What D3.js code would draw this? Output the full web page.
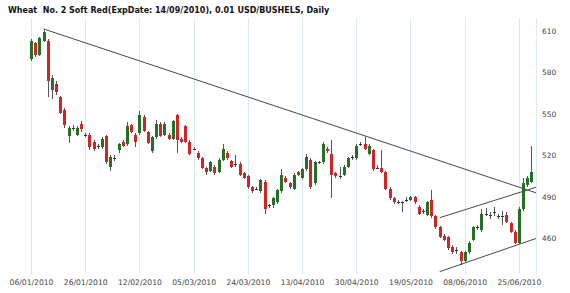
<!DOCTYPE html>
<html>
<head>
<meta charset="utf-8">
<script src="https://cdn.jsdelivr.net/npm/d3@7"></script>
<style>
body { margin: 0; background: #fff; }
svg { display: block; }
text { font-family: "DejaVu Sans", Verdana, sans-serif; white-space: pre; }
</style>
</head>
<body>
<svg id="chart" width="570" height="293"></svg>
<script>
const title = "Wheat  No. 2 Soft Red(ExpDate: 14/09/2010), 0.01 USD/BUSHELS, Daily"

// trading days, one candle each
const dates = [
    "06/01/2010", "07/01/2010", "08/01/2010", "11/01/2010", "12/01/2010", "13/01/2010", "14/01/2010", "15/01/2010",
    "19/01/2010", "20/01/2010", "21/01/2010", "22/01/2010", "25/01/2010", "26/01/2010", "27/01/2010", "28/01/2010",
    "29/01/2010", "01/02/2010", "02/02/2010", "03/02/2010", "04/02/2010", "05/02/2010", "08/02/2010", "09/02/2010",
    "10/02/2010", "11/02/2010", "12/02/2010", "17/02/2010", "18/02/2010", "19/02/2010", "22/02/2010", "23/02/2010",
    "24/02/2010", "25/02/2010", "26/02/2010", "01/03/2010", "02/03/2010", "03/03/2010", "04/03/2010", "05/03/2010",
    "08/03/2010", "09/03/2010", "10/03/2010", "11/03/2010", "12/03/2010", "15/03/2010", "16/03/2010", "17/03/2010",
    "18/03/2010", "19/03/2010", "22/03/2010", "23/03/2010", "24/03/2010", "25/03/2010", "26/03/2010", "29/03/2010",
    "30/03/2010", "31/03/2010", "01/04/2010", "05/04/2010", "06/04/2010", "07/04/2010", "08/04/2010", "09/04/2010",
    "12/04/2010", "13/04/2010", "14/04/2010", "15/04/2010", "16/04/2010", "19/04/2010", "20/04/2010", "21/04/2010",
    "22/04/2010", "23/04/2010", "26/04/2010", "27/04/2010", "28/04/2010", "29/04/2010", "30/04/2010", "03/05/2010",
    "04/05/2010", "05/05/2010", "06/05/2010", "07/05/2010", "10/05/2010", "11/05/2010", "12/05/2010", "13/05/2010",
    "14/05/2010", "17/05/2010", "18/05/2010", "19/05/2010", "20/05/2010", "21/05/2010", "24/05/2010", "25/05/2010",
    "26/05/2010", "27/05/2010", "28/05/2010", "01/06/2010", "02/06/2010", "03/06/2010", "04/06/2010", "07/06/2010",
    "08/06/2010", "09/06/2010", "10/06/2010", "11/06/2010", "14/06/2010", "15/06/2010", "16/06/2010", "17/06/2010",
    "18/06/2010", "21/06/2010", "22/06/2010", "23/06/2010", "24/06/2010", "25/06/2010", "28/06/2010", "29/06/2010",
    "30/06/2010",
]

const open = [
    590, 601, 593, 603, 603, 567, 572, 562, 553, 534, 540, 535, 543, 535, 535, 530, 527, 526, 534, 512,
    518, 524, 530, 528, 542, 535, 536, 548, 537, 523, 533, 543, 535, 535, 532, 549, 532, 541, 530, 525,
    522, 518, 511, 509, 512, 508, 517, 522, 516, 513, 514, 507, 505, 497, 496, 494, 501, 484, 484, 486,
    494, 504, 500, 496, 508, 504, 510, 517, 500, 515, 515, 525, 521, 507, 505, 506, 512, 519, 518, 528,
    528, 521, 524, 511, 511, 508, 496, 489, 486, 486, 488, 488, 490, 483, 480, 477, 488, 476, 468, 462,
    461, 454, 452, 450, 444, 450, 459, 468, 466, 478, 477, 479, 476, 476, 477, 471, 465, 457, 481, 499,
    501,
]
const high = [
    604, 602, 606, 611, 604, 578, 574, 563, 554, 541, 542, 541, 545, 536, 536, 531, 528, 533, 535, 520,
    520, 529, 531, 544, 543, 536, 552, 549, 538, 534, 546, 544, 544, 536, 546, 550, 533, 542, 531, 526,
    523, 519, 512, 516, 513, 518, 528, 523, 517, 520, 515, 508, 506, 498, 497, 503, 502, 485, 490, 496,
    510, 505, 501, 507, 509, 511, 521, 518, 516, 516, 530, 526, 531, 508, 512, 513, 519, 520, 528, 530,
    533, 528, 525, 513, 524, 509, 497, 490, 488, 487, 490, 491, 491, 484, 481, 487, 495, 477, 469, 463,
    462, 455, 454, 451, 451, 458, 469, 470, 481, 482, 479, 483, 478, 480, 479, 472, 466, 483, 504, 505,
    527,
]
const low = [
    588, 591, 592, 602, 562, 561, 564, 550, 540, 529, 538, 534, 537, 533, 524, 523, 525, 525, 514, 509,
    516, 522, 526, 527, 536, 526, 535, 537, 528, 522, 532, 533, 534, 531, 531, 522, 529, 529, 520, 524,
    517, 510, 506, 508, 506, 507, 516, 517, 511, 512, 505, 503, 496, 493, 495, 493, 478, 482, 482, 485,
    493, 500, 496, 495, 505, 503, 509, 496, 499, 514, 514, 522, 489, 504, 503, 505, 511, 517, 517, 527,
    524, 520, 509, 510, 507, 495, 488, 485, 485, 479, 486, 487, 485, 477, 478, 476, 475, 467, 460, 458,
    452, 449, 449, 441, 443, 449, 458, 466, 465, 476, 474, 476, 474, 470, 471, 464, 456, 456, 480, 497,
    500,
]
const close = [
    603, 593, 605, 609, 574, 576, 566, 551, 542, 540, 539, 540, 539, 534, 526, 525, 527, 532, 515, 519,
    518, 528, 527, 541, 537, 530, 549, 538, 529, 533, 543, 534, 543, 532, 545, 531, 530, 530, 521, 525,
    518, 511, 508, 515, 507, 517, 525, 518, 512, 514, 506, 504, 497, 494, 496, 502, 481, 484, 489, 495,
    506, 501, 497, 506, 506, 510, 519, 497, 515, 515, 528, 523, 506, 505, 505, 512, 518, 519, 527, 528,
    525, 527, 510, 511, 508, 496, 489, 486, 486, 486, 488, 490, 486, 478, 480, 486, 476, 468, 461, 459,
    453, 450, 452, 444, 450, 457, 468, 468, 478, 478, 477, 479, 476, 476, 472, 465, 457, 481, 500, 504,
    508,
]

const priceTicks = [460, 490, 520, 550, 580, 610]
const dateTicks = [0, 13, 26, 39, 52, 65, 78, 91, 104, 117]

// drawn trend lines, [candle index, price] at each end
const trendLines = [
    [[3, 611.5], [121.1, 493]],
    [[98, 475], [121.1, 497]],
    [[98, 436], [121.1, 460]],
]

const plotTop = 18
const plotBottom = 274
const plotRight = 536

const upColor = "#257025"
const downColor = "#d02428"
const gridColor = "#dceaf2"

let svg = d3.select("svg#chart")

let x = d3.scaleLinear()
    .domain([0, 120])
    .range([31, 531.4])
let y = d3.scaleLinear()
    .domain([434.3, 619.4])
    .range([plotBottom, plotTop])

svg.append("text")
    .attr("x", 8)
    .attr("y", 13)
    .attr("font-size", 8)
    .attr("font-weight", "bold")
    .attr("fill", "#111")
    .text(title)

// vertical grid at each date tick, plus the right border
let grid = svg.append("g")
    .attr("stroke", gridColor)
    .attr("shape-rendering", "crispEdges")
grid.selectAll("line")
    .data(dateTicks)
    .join("line")
        .attr("x1", d => Math.round(x(d)) + 0.5)
        .attr("x2", d => Math.round(x(d)) + 0.5)
        .attr("y1", plotTop)
        .attr("y2", plotBottom)
grid.append("line")
    .attr("x1", plotRight + 0.5)
    .attr("x2", plotRight + 0.5)
    .attr("y1", plotTop)
    .attr("y2", plotBottom)

let xAxis = svg.append("g")
    .attr("transform", `translate(0,${plotBottom + 3})`)
    .call(d3.axisBottom(x)
        .tickValues(dateTicks)
        .tickSize(0)
        .tickFormat(i => dates[i]))
xAxis.select(".domain").remove()
xAxis.selectAll("text")
    .attr("font-family", "DejaVu Sans, Verdana, sans-serif")
    .attr("font-size", 7.6)
    .attr("fill", "#444")

let yAxis = svg.append("g")
    .attr("transform", `translate(${plotRight + 3},0)`)
    .call(d3.axisRight(y)
        .tickValues(priceTicks)
        .tickSize(0))
yAxis.select(".domain").remove()
yAxis.selectAll("text")
    .attr("font-family", "DejaVu Sans, Verdana, sans-serif")
    .attr("font-size", 7.4)
    .attr("fill", "#444")

// candles
let candles = svg.append("g")
    .attr("shape-rendering", "crispEdges")
    .selectAll("g")
    .data(d3.range(dates.length))
    .join("g")
candles.append("line")
    .attr("x1", i => Math.round(x(i)) + 0.5)
    .attr("x2", i => Math.round(x(i)) + 0.5)
    .attr("y1", i => y(high[i]))
    .attr("y2", i => y(low[i]))
    .attr("stroke", "#555")
candles.append("rect")
    .attr("x", i => Math.round(x(i)) - 1)
    .attr("width", 3)
    .attr("y", i => y(Math.max(open[i], close[i])))
    .attr("height", i => Math.max(1, Math.abs(y(open[i]) - y(close[i]))))
    .attr("fill", i => {
        if (Math.abs(close[i] - open[i]) < 1.5) {
            return "#333"
        }
        return close[i] > open[i] ? upColor : downColor
    })

// trend lines
svg.append("g")
    .selectAll("line")
    .data(trendLines)
    .join("line")
        .attr("x1", d => x(d[0][0]))
        .attr("y1", d => y(d[0][1]))
        .attr("x2", d => x(d[1][0]))
        .attr("y2", d => y(d[1][1]))
        .attr("stroke", "#484848")
        .attr("stroke-width", 1)
</script>
</body>
</html>
